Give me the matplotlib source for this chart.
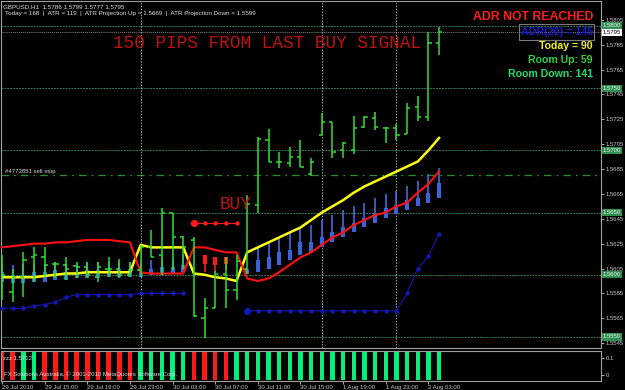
import matplotlib
matplotlib.use("Agg")
import matplotlib.pyplot as plt
import matplotlib.patches as patches
import numpy as np

plt.rcParams["font.family"] = ["Liberation Sans", "DejaVu Sans"]

nan = np.nan

# GBPUSD H1 bars, 29 Jul 2010 11:00 .. 2 Aug 2010 04:00
opens = [1.5586, 1.5586, 1.5598, 1.5614, 1.5614, 1.5609, 1.5608, 1.5607, 1.5606, 1.5598,
         1.5605, 1.5605, 1.5600, 1.5604, 1.5622, 1.5616, 1.5650, 1.5630, 1.5628, 1.5565,
         1.5573, 1.5601, 1.5588, 1.5605, 1.5656, 1.5708, 1.5691, 1.5690, 1.5695, 1.5681,
         1.5712, 1.5723, 1.5700, 1.5700, 1.5719, 1.5726, 1.5718, 1.5718, 1.5713, 1.5735,
         1.5727, 1.5786]
highs = [1.5616, 1.5605, 1.5618, 1.5622, 1.5622, 1.5610, 1.5614, 1.5610, 1.5610, 1.5610,
         1.5614, 1.5613, 1.5610, 1.5624, 1.5636, 1.5654, 1.5650, 1.5631, 1.5630, 1.5581,
         1.5603, 1.5614, 1.5616, 1.5664, 1.5711, 1.5717, 1.5699, 1.5703, 1.5708, 1.5694,
         1.5730, 1.5723, 1.5707, 1.5728, 1.5728, 1.5731, 1.5719, 1.5721, 1.5738, 1.5744,
         1.5795, 1.5799]
lows = [1.5580, 1.5578, 1.5582, 1.5594, 1.5598, 1.5597, 1.5596, 1.5597, 1.5597, 1.5594,
        1.5598, 1.5597, 1.5598, 1.5598, 1.5614, 1.5600, 1.5604, 1.5605, 1.5566, 1.5549,
        1.5573, 1.5573, 1.5580, 1.5601, 1.5650, 1.5691, 1.5686, 1.5687, 1.5687, 1.5679,
        1.5712, 1.5694, 1.5694, 1.5697, 1.5718, 1.5716, 1.5706, 1.5708, 1.5713, 1.5724,
        1.5724, 1.5777]
closes = [1.5600, 1.5598, 1.5612, 1.5616, 1.5608, 1.5609, 1.5605, 1.5606, 1.5600, 1.5606,
          1.5605, 1.5600, 1.5604, 1.5622, 1.5614, 1.5650, 1.5630, 1.5622, 1.5567, 1.5573,
          1.5601, 1.5588, 1.5611, 1.5657, 1.5709, 1.5691, 1.5691, 1.5695, 1.5687, 1.5691,
          1.5723, 1.5699, 1.5706, 1.5718, 1.5727, 1.5719, 1.5718, 1.5712, 1.5734, 1.5727,
          1.5786, 1.5795]

# indicator lines
yellow_line = [1.5598, 1.5598, 1.5598, 1.5598, 1.5599, 1.5600, 1.5601, 1.5601, 1.5602, 1.5602,
               1.5602, 1.5602, 1.5602, 1.5624, 1.5622, 1.5622, 1.5622, 1.5622, 1.5601, 1.5600,
               1.5598, 1.5597, 1.5595, 1.5618, 1.5622, 1.5626, 1.5630, 1.5634, 1.5638, 1.5644,
               1.5650, 1.5655, 1.5660, 1.5666, 1.5671, 1.5675, 1.5679, 1.5683, 1.5687, 1.5691,
               1.5700, 1.5710]
red_line = [1.5622, 1.5623, 1.5624, 1.5625, 1.5625, 1.5626, 1.5626, 1.5627, 1.5628, 1.5628,
            1.5628, 1.5627, 1.5626, 1.5602, 1.5601, 1.5601, 1.5601, 1.5601, 1.5622, 1.5622,
            1.5620, 1.5618, 1.5618, 1.5597, 1.5595, 1.5597, 1.5602, 1.5608, 1.5614, 1.5618,
            1.5624, 1.5630, 1.5634, 1.5640, 1.5644, 1.5648, 1.5650, 1.5655, 1.5658, 1.5666,
            1.5673, 1.5683]
blue_dots = [1.5573, 1.5573, 1.5573, 1.5575, 1.5576, 1.5578, 1.5582, 1.5584, 1.5584, 1.5584,
             1.5584, 1.5584, 1.5584, 1.5585, 1.5585, 1.5585, 1.5585, 1.5585, nan, nan,
             nan, nan, nan, 1.5571, 1.5571, 1.5571, 1.5571, 1.5571, 1.5571, 1.5571,
             1.5571, 1.5571, 1.5571, 1.5571, 1.5571, 1.5571, 1.5571, 1.5571, 1.5585, 1.5605,
             1.5615, 1.5633]
red_dots = [nan] * 18 + [1.5642, 1.5642, 1.5642, 1.5642, 1.5642] + [nan] * 19

# blue histogram (top / start of thick part / bottom)
hist_top = [1.5608, 1.5608, 1.5609, 1.5609, 1.5609, 1.5610, 1.5609, 1.5608, 1.5610, 1.5610,
            1.5610, 1.5610, 1.5610, 1.5610, 1.5612, 1.5614, 1.5612, 1.5616, nan, nan,
            nan, nan, nan, 1.5605, 1.5622, 1.5626, 1.5630, 1.5634, 1.5638, 1.5640,
            1.5644, 1.5648, 1.5652, 1.5655, 1.5658, 1.5662, 1.5665, 1.5667, 1.5671, 1.5675,
            1.5681, 1.5686]
hist_mid = [1.5602, 1.5600, 1.5600, 1.5602, 1.5602, 1.5604, 1.5602, 1.5602, 1.5604, 1.5604,
            1.5604, 1.5605, 1.5605, 1.5602, 1.5605, 1.5606, 1.5606, 1.5608, nan, nan,
            nan, nan, nan, 1.5605, 1.5612, 1.5614, 1.5618, 1.5620, 1.5626, 1.5626,
            1.5630, 1.5634, 1.5638, 1.5642, 1.5646, 1.5650, 1.5654, 1.5656, 1.5660, 1.5662,
            1.5666, 1.5674]
hist_bot = [1.5594, 1.5593, 1.5593, 1.5594, 1.5594, 1.5596, 1.5596, 1.5597, 1.5597, 1.5597,
            1.5598, 1.5598, 1.5598, 1.5598, 1.5600, 1.5600, 1.5601, 1.5602, nan, nan,
            nan, nan, nan, 1.5601, 1.5602, 1.5605, 1.5608, 1.5612, 1.5616, 1.5618,
            1.5622, 1.5626, 1.5630, 1.5634, 1.5638, 1.5642, 1.5646, 1.5649, 1.5652, 1.5655,
            1.5658, 1.5662]
red_hist_idx = [19, 20, 21]
red_hist_top = [1.5616, 1.5614, 1.5614]
red_hist_mid = [1.5609, 1.5608, 1.5609]
red_hist_bot = [1.5602, 1.5602, 1.5604]

# lower window: trend state per bar (1 up / -1 down)
trend = [-1, -1, 1, 1, -1, -1, -1, -1, -1, -1,
         -1, -1, -1, 1, 1, 1, 1, 1, -1, -1,
         -1, -1, 1, 1, 1, 1, 1, 1, 1, 1,
         1, 1, 1, 1, 1, 1, 1, 1, 1, 1,
         1, 1]
trend_low = -0.03
trend_high = 0.135

price_ticks = [1.5805, 1.5785, 1.5765, 1.5745, 1.5725, 1.5705, 1.5685, 1.5665,
               1.5645, 1.5625, 1.5605, 1.5585, 1.5565, 1.5545]
level_lines = [1.5800, 1.5750, 1.5700, 1.5650, 1.5600, 1.5550]
bid = 1.5795
sell_stop = 1.5680
day_breaks = [13, 30, 37]
time_pos = [0, 4, 8, 12, 16, 20, 24, 28, 32, 36, 40]
time_labels = ["29 Jul 2010", "29 Jul 15:00", "29 Jul 19:00", "29 Jul 23:00",
               "30 Jul 03:00", "30 Jul 07:00", "30 Jul 11:00", "30 Jul 15:00",
               "1 Aug 19:00", "1 Aug 23:00", "2 Aug 03:00"]

BG = "#000000"
FG = "#c8c8c8"
GREEN = "#2ee02e"
W, H = 625.0, 390.0


def rect(x0, y0, x1, y1):
    return [x0 / W, 1 - y1 / H, (x1 - x0) / W, (y1 - y0) / H]


def ftext(x, y, s, **kw):
    fig.text(x / W, 1 - y / H, s, **kw)


fig = plt.figure(figsize=(6.25, 3.9), dpi=100, facecolor=BG)
ax = fig.add_axes(rect(1, 1, 601, 348), facecolor=BG)
sub = fig.add_axes(rect(1, 351, 601, 381), facecolor=BG)

x = np.arange(len(opens))
xlim = (-0.094, 56.19)

# levels and separators
for lvl in level_lines:
    ax.axhline(lvl, color="#3a7a52", lw=0.7, ls=(0, (2, 1)), zorder=1)
ax.axhline(bid, color="#808080", lw=0.7, ls=(0, (1, 1)), zorder=1)
ax.axhline(sell_stop, color="#239023", lw=0.9, ls=(0, (6, 4, 1.5, 4)), zorder=1)
for d in day_breaks:
    ax.axvline(d, color="#a8a8a8", lw=0.7, ls=(0, (1.5, 1.5)), zorder=1)

# blue / red histogram indicator
ax.vlines(x, hist_bot, hist_top, color="#4169e1", lw=1.2, zorder=2)
ax.vlines(x, hist_bot, hist_mid, color="#3c62d4", lw=3.0, zorder=2)
ax.vlines(red_hist_idx, red_hist_bot, red_hist_top, color="#ff1a1a", lw=1.2, zorder=2)
ax.vlines(red_hist_idx, red_hist_mid, red_hist_top, color="#ff1a1a", lw=3.0, zorder=2)

# dotted stop lines
for vals, col in [(blue_dots, "#1418b4"), (red_dots, "#ff1a1a")]:
    v = np.array(vals)
    ax.plot(x, v, color=col, lw=0.8, marker="o", ms=2.2, zorder=3)
    ok = ~np.isnan(v)
    starts = [i for i in range(1, len(v)) if ok[i] and not ok[i - 1]]
    ax.plot(starts, v[starts], "o", color=col, ms=4.2, zorder=3)

ax.plot(x, yellow_line, color="#ffff10", lw=1.8, zorder=4)
ax.plot(x, red_line, color="#ff1010", lw=1.5, zorder=4)

# OHLC bars
ax.vlines(x, lows, highs, color=GREEN, lw=1.1, zorder=5)
ax.hlines(opens, x - 0.3, x, color=GREEN, lw=1.1, zorder=5)
ax.hlines(closes, x, x + 0.3, color=GREEN, lw=1.1, zorder=5)

ax.set_xlim(*xlim)
ax.set_ylim(1.55411, 1.58201)
ax.set_xticks([])
ax.yaxis.tick_right()
ax.set_yticks(price_ticks)
ax.set_yticklabels([f"{p:.4f}" for p in price_ticks])
ax.tick_params(axis="y", length=2, width=0.6, pad=1.2, labelsize=4.3, colors=FG)
for s in ax.spines.values():
    s.set_color("#a0a0a0")
    s.set_linewidth(0.8)

tr = ax.get_yaxis_transform()
for lvl in level_lines:
    ax.text(1.003, lvl, f"{lvl:.4f}", transform=tr, fontsize=4.3, color="#f0f0f0",
            va="center", ha="left", clip_on=False,
            bbox=dict(boxstyle="square,pad=0.18", fc="#2f8f4f", ec="none"))
ax.text(1.003, bid, f"{bid:.4f}", transform=tr, fontsize=4.3, color="#000000",
        va="center", ha="left", clip_on=False,
        bbox=dict(boxstyle="square,pad=0.18", fc="#ffffff", ec="none"))

# lower window
cols = ["#00f07a" if t > 0 else "#ff1a1a" for t in trend]
sub.bar(x, [trend_high - trend_low] * len(x), bottom=trend_low, width=0.42, color=cols)
sub.set_xlim(*xlim)
sub.set_ylim(-0.034, 0.140)
sub.yaxis.tick_right()
sub.set_yticks([0, 0.1])
sub.set_yticklabels(["0", "0.1"])
sub.tick_params(axis="y", length=2, width=0.6, pad=1.2, labelsize=4.3, colors=FG)
sub.set_xticks(time_pos)
sub.set_xticklabels(time_labels)
sub.tick_params(axis="x", length=2, width=0.6, pad=0.6, labelsize=4.3, colors=FG)
for lbl in sub.get_xticklabels():
    lbl.set_ha("left")
for s in sub.spines.values():
    s.set_color("#a0a0a0")
    s.set_linewidth(0.8)

# texts
small = dict(fontsize=4.5, color="#e0e0e0", va="center", ha="left")
ftext(3, 6.5, "GBPUSD,H1  1.5786 1.5799 1.5777 1.5795", **small)
ftext(5, 14, "Today = 168  |  ATR = 119  |  ATR Projection Up = 1.5669  |  "
      "ATR Projection Down = 1.5599", **small)
ftext(5, 172, "#4773851 sell stop", fontsize=4.3, color="#d8d8d8", va="center")
ftext(3, 359, "zzz 1.5712", fontsize=4.3, color="#e0e0e0", va="center")
ftext(4, 374, "FX Solutions Australia, \u00a9 2001-2010 MetaQuotes Software Corp.",
      fontsize=4.3, color="#e0e0e0", va="center")

mono = dict(family="Liberation Mono", fontsize=12.7, color="#c01010", va="center", ha="left")
ftext(113, 44, "150 PIPS FROM LAST BUY SIGNAL", **mono)
ftext(220, 204.5, "BUY", **mono)

bold = dict(fontweight="bold", va="center", ha="right")
ftext(593, 17, "ADR NOT REACHED", fontsize=8.8, color="#ff1a1a", **bold)
ftext(593, 32, "ADR(20) = 145", fontsize=7.7, color="#1a1ad8", **bold)
ftext(593, 46, "Today = 90", fontsize=7.6, color="#f0f020", **bold)
ftext(593, 60, "Room Up: 59", fontsize=7.6, color="#30d040", **bold)
ftext(593, 74, "Room Down: 141", fontsize=7.6, color="#20e070", **bold)
fig.patches.append(patches.Rectangle((519 / W, 1 - 40 / H), 75 / W, 16 / H,
                                     transform=fig.transFigure, fill=False,
                                     ec="#7a7a7a", lw=0.8))

fig.savefig("out.png", dpi=100, facecolor=BG)
